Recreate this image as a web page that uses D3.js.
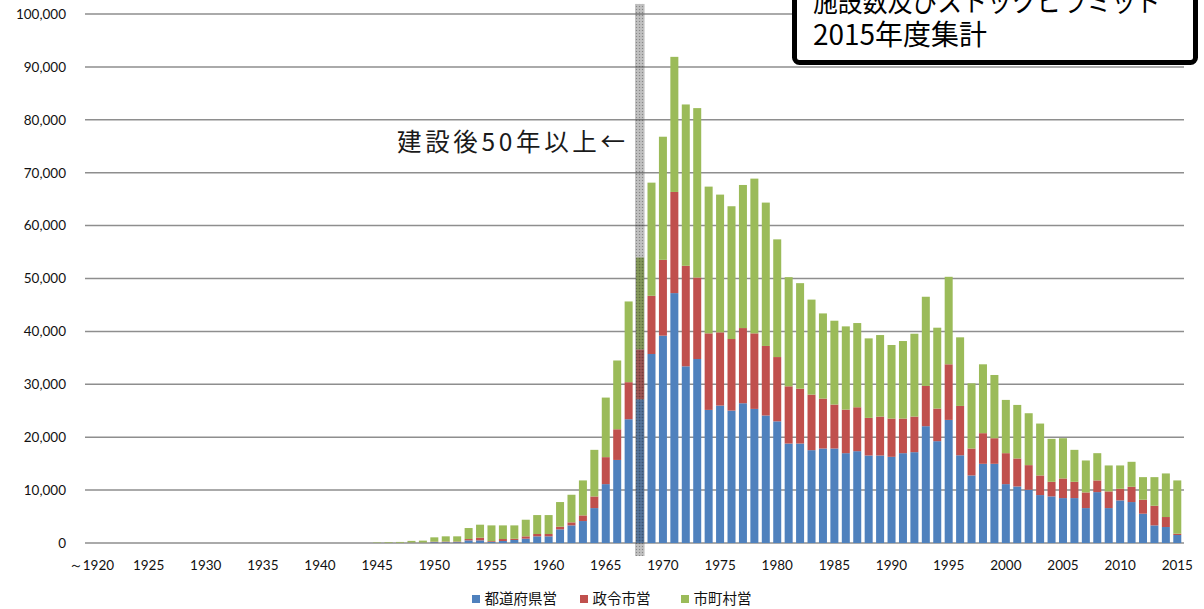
<!DOCTYPE html>
<html>
<head>
<meta charset="utf-8">
<script src="https://cdn.jsdelivr.net/npm/d3@7"></script>
<style>
  html, body { margin: 0; padding: 0; background: #fff; }
  svg { display: block; }
</style>
</head>
<body>
<svg id="chart" width="1204" height="609"></svg>
<script>
// ---- data ----
const years = d3.range(1920, 2016);
const seriesNames = ["都道府県営", "政令市営", "市町村営"];
const seriesColors = ["#4f81bd", "#c0504d", "#9bbb59"];

// 都道府県営 (prefectural)
const prefValues = [
  0,0,0,0,0, 0,0,0,0,0, 0,0,0,0,0, 0,0,0,0,0, 0,0,0,0,0,   // 1920-1944
  0,30,30,60,60,                                            // 1945-1949
  150,150,150,500,500, 200,380,570,820,1260,                // 1950-1959
  1260,2580,3330,4150,6600, 11130,15700,23400,27170,35730,  // 1960-1969
  39190,47240,33400,34780,25160, 25980,25030,26420,25350,24100, // 1970-1979
  23000,18800,18800,17550,17860, 17860,16980,17360,16540,16540, // 1980-1989
  16290,16980,17170,22080,19250, 23270,16580,12770,14970,14970, // 1990-1999
  11130,10690,10060,9060,8810, 8490,8490,6600,9620,6600,    // 2000-2009
  8050,7740,5540,3330,3020, 1510                            // 2010-2015
];
// 政令市営 (designated cities)
const cityValues = [
  0,0,0,0,0, 0,0,0,0,0, 0,0,0,0,0, 0,0,0,0,0, 0,0,0,0,0,
  0,20,20,40,40,
  100,120,120,250,500, 150,370,230,440,440,
  440,500,570,1070,2200, 5100,5800,7000,9430,11000,
  14340,19120,19000,15410,14470, 13840,13530,14210,14280,13150,
  12150,10820,10370,10500,9440, 8310,8240,8300,7110,7360,
  7230,6540,6730,7610,6160, 10510,9330,5090,5790,4840,
  5850,5290,4660,3710,2760, 3710,3080,2960,2210,3150,
  2200,2890,2640,3710,1890, 250
];
// 市町村営 (municipal)
const townValues = [
  0,0,0,0,0, 0,0,0,0,0, 0,0,0,0,0, 0,0,0,0,0, 0,0,0,0,0,
  80,120,150,300,350,
  820,990,990,2080,2460, 2980,2580,2530,3140,3580,
  3580,4660,5220,6610,8810, 11260,13000,15260,17360,21390,
  23270,25540,30500,32020,27740, 26040,25100,27050,29250,27100,
  22250,20630,19950,17960,16100, 15850,15730,15920,15030,15410,
  13910,14660,15660,16860,15290, 16540,12970,12330,13020,11950,
  10070,10120,9810,9810,8120, 7610,6040,6040,5150,4910,
  4410,4720,4270,5410,8240, 10070
];
const yTicks = [0,10000,20000,30000,40000,50000,60000,70000,80000,90000,100000];
const xTickYears = [1920,1925,1930,1935,1940,1945,1950,1955,1960,1965,1970,1975,1980,1985,1990,1995,2000,2005,2010,2015];
const xTickLabels = ["～1920","1925","1930","1935","1940","1945","1950","1955","1960","1965","1970","1975","1980","1985","1990","1995","2000","2005","2010","2015"];
const highlightYear = 1968;
const annotationText = "建設後50年以上←";
const titleLines = ["施設数及びストックピラミッド", "2015年度集計"];

// ---- layout ----
const svg = d3.select("#chart");
const plotLeft = 85.7, plotRight = 1183, plotTop = 14, plotBottom = 543;
const numFont = "Lato, 'Liberation Sans', sans-serif";
const cjkFont = "'Noto Sans CJK JP', sans-serif";

const rows = years.map((yr, i) => ({
  year: yr,
  [seriesNames[0]]: prefValues[i],
  [seriesNames[1]]: cityValues[i],
  [seriesNames[2]]: townValues[i]
}));

const x = d3.scaleBand().domain(years).range([plotLeft, plotRight])
  .paddingInner(0.3).paddingOuter(0.15);
const y = d3.scaleLinear().domain([0, 100000]).range([plotBottom, plotTop]);

// gridlines
svg.append("g").selectAll("line").data(yTicks).join("line")
  .attr("x1", 85).attr("x2", 1184)
  .attr("y1", d => y(d)).attr("y2", d => y(d))
  .attr("stroke", "#8e8e8e").attr("stroke-width", 1.5);

// y axis labels
const yAxis = d3.axisLeft(y).tickValues(yTicks).tickFormat(d3.format(",")).tickSize(0).tickPadding(19);
const yg = svg.append("g").attr("transform", `translate(${85},0)`).call(yAxis);
yg.select(".domain").remove();
yg.selectAll("text").attr("font-family", numFont).attr("font-size", 13.5).attr("fill", "#111");

// stacked bars
const stack = d3.stack().keys(seriesNames);
const stacked = stack(rows);
svg.append("g").selectAll("g").data(stacked).join("g")
  .attr("fill", (d, i) => seriesColors[i])
  .selectAll("rect").data(d => d).join("rect")
  .attr("x", d => x(d.data.year))
  .attr("width", x.bandwidth())
  .attr("y", d => y(d[1]))
  .attr("height", d => Math.max(0, y(d[0]) - y(d[1])));

// x axis labels
const xAxis = d3.axisBottom(x).tickValues(xTickYears)
  .tickFormat(d => xTickLabels[xTickYears.indexOf(d)]).tickSize(0).tickPadding(17);
const xg = svg.append("g").attr("transform", `translate(0,${plotBottom})`).call(xAxis);
xg.select(".domain").remove();
xg.selectAll("text").attr("font-family", numFont).attr("font-size", 13.5).attr("fill", "#111");

// highlight column (dotted grey overlay)
const defs = svg.append("defs");
const pat = defs.append("pattern").attr("id", "dots").attr("patternUnits", "userSpaceOnUse")
  .attr("width", 3).attr("height", 3);
pat.append("rect").attr("width", 3).attr("height", 3).attr("fill", "rgba(70,70,70,0.36)");
pat.append("rect").attr("x", 0).attr("y", 0).attr("width", 1).attr("height", 1).attr("fill", "rgba(40,40,40,0.35)");
pat.append("rect").attr("x", 1.5).attr("y", 1.5).attr("width", 1).attr("height", 1).attr("fill", "rgba(255,255,255,0.25)");
svg.append("rect")
  .attr("x", x(highlightYear) - 1)
  .attr("width", x.bandwidth() + 1.5)
  .attr("y", y(101900))
  .attr("height", y(0) + 13 - y(101900))
  .attr("fill", "url(#dots)");

// annotation
svg.append("text")
  .attr("x", 397).attr("y", 151)
  .attr("font-family", cjkFont).attr("font-size", 24.5)
  .attr("fill", "#1a1a1a")
  .attr("textLength", 228).attr("lengthAdjust", "spacing")
  .text(annotationText);

// title box
svg.append("rect")
  .attr("x", 794.5).attr("y", -20).attr("width", 401).attr("height", 82.5)
  .attr("rx", 5).attr("fill", "#fff").attr("stroke", "#000").attr("stroke-width", 5);
svg.append("g").selectAll("text").data(titleLines).join("text")
  .attr("x", 813).attr("y", (d, i) => 12 + i * 33)
  .attr("font-family", cjkFont).attr("font-size", 28).attr("fill", "#000")
  .attr("textLength", (d, i) => i === 0 ? 348 : 174).attr("lengthAdjust", "spacingAndGlyphs")
  .text(d => d);

// legend
const legendItems = [
  { name: seriesNames[0], color: seriesColors[0], x: 472 },
  { name: seriesNames[1], color: seriesColors[1], x: 580 },
  { name: seriesNames[2], color: seriesColors[2], x: 681 }
];
const lg = svg.append("g").selectAll("g").data(legendItems).join("g")
  .attr("transform", d => `translate(${d.x},599)`);
lg.append("rect").attr("x", 0).attr("y", -4).attr("width", 8).attr("height", 8).attr("fill", d => d.color);
lg.append("text").attr("x", 12.5).attr("y", 0).attr("dy", "0.35em")
  .attr("font-family", cjkFont).attr("font-size", 14.5).attr("fill", "#111")
  .text(d => d.name);
</script>
</body>
</html>
